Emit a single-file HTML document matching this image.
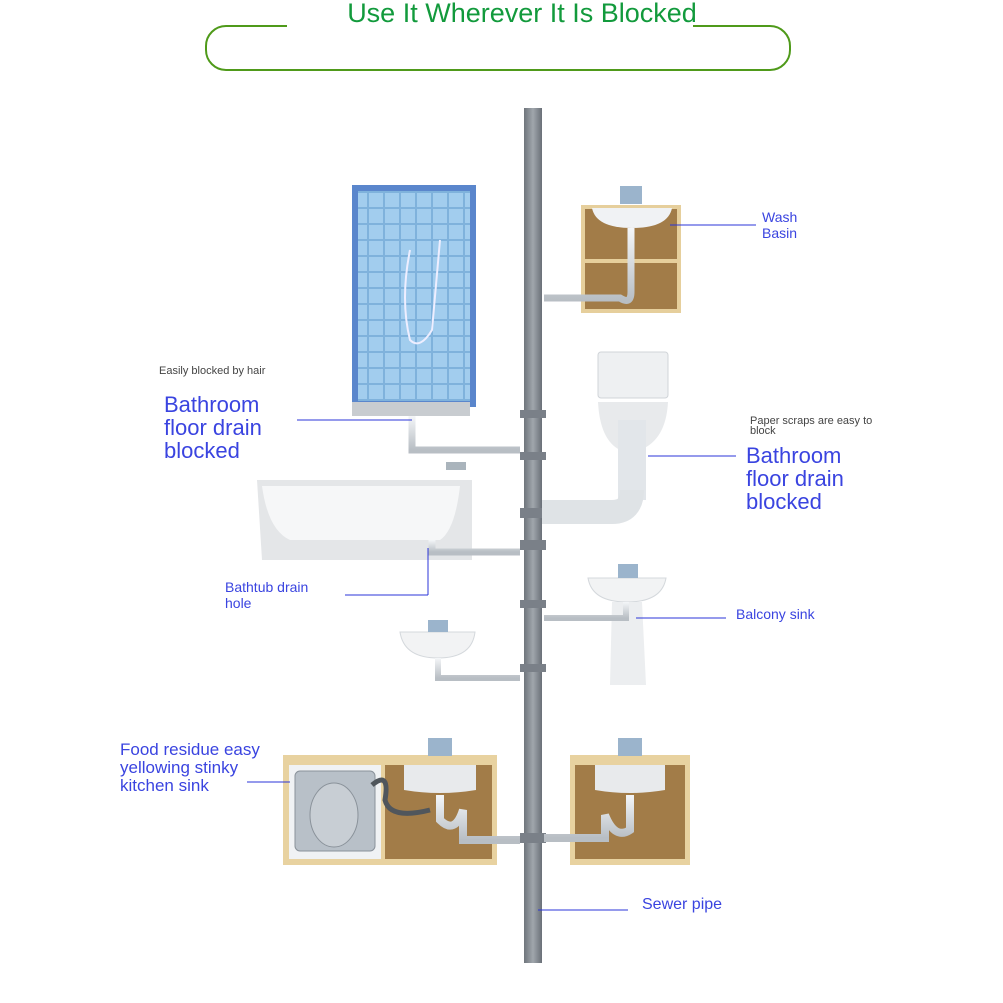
<!DOCTYPE html>
<html><head><meta charset="utf-8"><style>
html,body{margin:0;padding:0;background:#fff;}
svg{display:block;font-family:"Liberation Sans",sans-serif;}
</style></head><body>
<svg width="1003" height="1003" viewBox="0 0 1003 1003" xmlns="http://www.w3.org/2000/svg">
<defs>
<pattern id="tile" width="16" height="16" patternUnits="userSpaceOnUse">
<rect width="16" height="16" fill="#7fb2dc"/><rect x="1" y="1" width="14" height="14" fill="#a2cdee"/>
</pattern>
<linearGradient id="pipeg" x1="0" x2="1"><stop offset="0" stop-color="#6f757c"/><stop offset=".5" stop-color="#a0a6ac"/><stop offset="1" stop-color="#6a7078"/></linearGradient>
<linearGradient id="wpipe" x1="0" y1="0" x2="0" y2="1"><stop offset="0" stop-color="#f4f6f8"/><stop offset="1" stop-color="#b8bec4"/></linearGradient>
</defs>
<!-- title -->
<text x="522" y="22" font-size="27" fill="#129a3c" text-anchor="middle">Use It Wherever It Is Blocked</text>
<path d="M287 26 H226 A20 20 0 0 0 206 46 V50 A20 20 0 0 0 226 70 H770 A20 20 0 0 0 790 50 V46 A20 20 0 0 0 770 26 H693" fill="none" stroke="#4f9a1a" stroke-width="2"/>

<!-- main pipe -->
<rect x="524" y="108" width="18" height="855" fill="url(#pipeg)"/>
<g fill="#7a8088">
<rect x="520" y="410" width="26" height="8"/><rect x="520" y="452" width="26" height="8"/>
<rect x="520" y="508" width="26" height="10"/><rect x="520" y="540" width="26" height="10"/>
<rect x="520" y="600" width="26" height="8"/><rect x="520" y="664" width="26" height="8"/>
<rect x="520" y="833" width="26" height="10"/>
</g>

<!-- shower -->
<rect x="352" y="185" width="124" height="222" fill="#5a86cc"/>
<rect x="358" y="191" width="112" height="210" fill="url(#tile)"/>
<path d="M410 250 Q400 300 410 340 Q420 350 432 330 L440 240" fill="none" stroke="#eef" stroke-width="2"/>
<rect x="352" y="402" width="118" height="14" fill="#c8ccd0"/>
<path d="M412 416 V450 H520" fill="none" stroke="url(#wpipe)" stroke-width="7"/>

<!-- wash basin cabinet -->
<rect x="581" y="205" width="100" height="108" fill="#e6cf9c"/>
<rect x="585" y="209" width="92" height="100" fill="#a27c48"/>
<rect x="585" y="259" width="92" height="4" fill="#e6cf9c"/>
<path d="M592 208 H672 Q668 228 632 228 Q596 228 592 208Z" fill="#f0f2f4"/>
<rect x="620" y="186" width="22" height="18" fill="#9bb4cc"/>
<path d="M631 228 V292 Q631 305 620 298 H544" fill="none" stroke="url(#wpipe)" stroke-width="7"/>

<!-- toilet -->
<rect x="598" y="352" width="70" height="46" rx="3" fill="#eef0f2" stroke="#d0d4d8"/>
<path d="M598 402 H668 Q666 440 640 450 H620 Q600 440 598 402Z" fill="#e8eaec"/>
<rect x="618" y="420" width="28" height="80" fill="#e2e6ea"/>
<path d="M632 490 Q632 512 612 512 H542" fill="none" stroke="#dfe3e6" stroke-width="24"/>

<!-- bathtub -->
<path d="M257 480 H472 V560 H262 Z" fill="#e4e6e8"/>
<path d="M262 486 H460 Q455 530 440 540 H290 Q268 530 262 486Z" fill="#f6f7f8"/>
<rect x="446" y="462" width="20" height="8" fill="#aab4bc"/>
<path d="M432 540 V552 H520" fill="none" stroke="url(#wpipe)" stroke-width="7"/>

<!-- balcony sink -->
<path d="M588 578 H666 Q662 602 627 602 Q592 602 588 578Z" fill="#f2f3f4" stroke="#d4d8dc"/>
<path d="M612 602 H642 L646 685 H610Z" fill="#eceef0"/>
<rect x="618" y="564" width="20" height="14" fill="#9bb4cc"/>
<path d="M626 602 V618 H544" fill="none" stroke="url(#wpipe)" stroke-width="6"/>

<!-- small sink -->
<path d="M400 632 H475 Q472 658 438 658 Q404 658 400 632Z" fill="#f2f3f4" stroke="#d4d8dc"/>
<rect x="428" y="620" width="20" height="12" fill="#9bb4cc"/>
<path d="M438 658 V678 H520" fill="none" stroke="url(#wpipe)" stroke-width="6"/>

<!-- kitchen cabinet -->
<rect x="283" y="755" width="214" height="110" fill="#e8d2a0"/>
<rect x="289" y="765" width="92" height="94" fill="#f0f2f4"/>
<rect x="295" y="771" width="80" height="80" rx="5" fill="#b8c0c8" stroke="#8a929a"/>
<ellipse cx="334" cy="815" rx="24" ry="32" fill="#c8ced4" stroke="#8a929a"/>
<rect x="385" y="765" width="107" height="94" fill="#a27c48"/>
<path d="M404 765 H476 V790 Q440 796 404 790Z" fill="#e8eaec"/>
<rect x="428" y="738" width="24" height="18" fill="#9bb4cc"/>
<path d="M372 785 Q390 770 385 800 Q390 820 430 810" fill="none" stroke="#50565c" stroke-width="5"/>
<path d="M440 795 V820 Q455 835 463 810 V840 H520" fill="none" stroke="url(#wpipe)" stroke-width="8"/>

<!-- right cabinet -->
<rect x="570" y="755" width="120" height="110" fill="#e8d2a0"/>
<rect x="575" y="765" width="110" height="94" fill="#a27c48"/>
<path d="M595 765 H665 V790 Q630 796 595 790Z" fill="#e8eaec"/>
<rect x="618" y="738" width="24" height="18" fill="#9bb4cc"/>
<path d="M630 795 V830 Q615 840 605 815 V838 H544" fill="none" stroke="url(#wpipe)" stroke-width="8"/>

<!-- leader lines -->
<g stroke="#2b35d8" stroke-width="1">
<line x1="670" y1="225" x2="756" y2="225"/>
<line x1="297" y1="420" x2="412" y2="420"/>
<line x1="648" y1="456" x2="736" y2="456"/>
<line x1="345" y1="595" x2="428" y2="595"/><line x1="428" y1="548" x2="428" y2="595"/>
<line x1="636" y1="618" x2="726" y2="618"/>
<line x1="247" y1="782" x2="290" y2="782"/>
<line x1="538" y1="910" x2="628" y2="910"/>
</g>

<!-- labels -->
<g fill="#3a44e0">
<text x="762" y="222" font-size="14">Wash</text><text x="762" y="238" font-size="14">Basin</text>
<text x="164" y="412" font-size="22">Bathroom</text><text x="164" y="435" font-size="22">floor drain</text><text x="164" y="458" font-size="22">blocked</text>
<text x="746" y="463" font-size="22">Bathroom</text><text x="746" y="486" font-size="22">floor drain</text><text x="746" y="509" font-size="22">blocked</text>
<text x="225" y="592" font-size="14">Bathtub drain</text><text x="225" y="608" font-size="14">hole</text>
<text x="736" y="619" font-size="14">Balcony sink</text>
<text x="120" y="755" font-size="17">Food residue easy</text><text x="120" y="773" font-size="17">yellowing stinky</text><text x="120" y="791" font-size="17">kitchen sink</text>
<text x="642" y="909" font-size="16">Sewer pipe</text>
</g>
<g fill="#444" font-size="11">
<text x="159" y="374">Easily blocked by hair</text>
<text x="750" y="424">Paper scraps are easy to</text><text x="750" y="434">block</text>
</g>
</svg>
</body></html>
